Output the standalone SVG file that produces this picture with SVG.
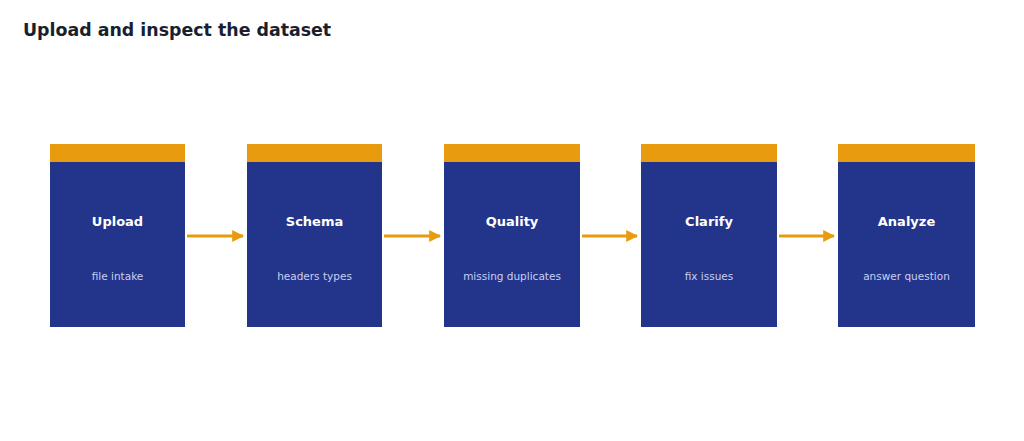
<svg xmlns="http://www.w3.org/2000/svg" width="1024" height="441" viewBox="0 0 1024 441">
<style>
.b{fill:#23348b}.t{fill:#e99b0f}
.h{font-family:"DejaVu Sans",sans-serif;font-weight:bold;font-size:13px;fill:#fff;text-anchor:middle}
.s{font-family:"DejaVu Sans",sans-serif;font-size:10.5px;fill:#c8d0f0;text-anchor:middle}
.c{stroke:#e99b0f;stroke-width:3;fill:none}
</style>
<defs><marker id="a" viewBox="0 0 10 10" refX="9" refY="5" markerWidth="12" markerHeight="12" markerUnits="userSpaceOnUse" orient="auto"><path d="M0,0L10,5L0,10z" fill="#e99b0f"/></marker></defs>
<rect width="1024" height="441" fill="#fff"/>
<text x="23" y="36" font-family="DejaVu Sans,sans-serif" font-weight="bold" font-size="17.4" fill="#1a1e2e">Upload and inspect the dataset</text>
<g id="connectors">
<path class="c" d="M187,236H243" marker-end="url(#a)"/>
<path class="c" d="M384,236H440" marker-end="url(#a)"/>
<path class="c" d="M582,236H637" marker-end="url(#a)"/>
<path class="c" d="M779,236H834" marker-end="url(#a)"/>
</g>
<g id="n1"><rect class="b" x="50" y="162" width="135" height="165"/><rect class="t" x="50" y="144" width="135" height="18"/><text class="h" x="117.5" y="226">Upload</text><text class="s" x="117.5" y="280">file intake</text></g>
<g id="n2"><rect class="b" x="247" y="162" width="135" height="165"/><rect class="t" x="247" y="144" width="135" height="18"/><text class="h" x="314.5" y="226">Schema</text><text class="s" x="314.5" y="280">headers types</text></g>
<g id="n3"><rect class="b" x="444" y="162" width="136" height="165"/><rect class="t" x="444" y="144" width="136" height="18"/><text class="h" x="512" y="226">Quality</text><text class="s" x="512" y="280">missing duplicates</text></g>
<g id="n4"><rect class="b" x="641" y="162" width="136" height="165"/><rect class="t" x="641" y="144" width="136" height="18"/><text class="h" x="709" y="226">Clarify</text><text class="s" x="709" y="280">fix issues</text></g>
<g id="n5"><rect class="b" x="838" y="162" width="137" height="165"/><rect class="t" x="838" y="144" width="137" height="18"/><text class="h" x="906.5" y="226">Analyze</text><text class="s" x="906.5" y="280">answer question</text></g>
</svg>
